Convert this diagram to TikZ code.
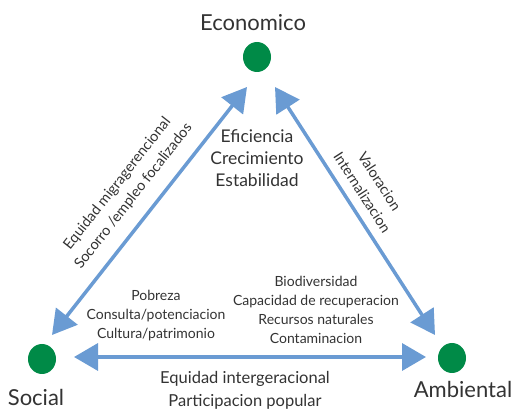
\documentclass[tikz,border=0pt]{standalone}
\usepackage{fontspec}
\setmainfont{Lato}
\usetikzlibrary{arrows.meta}
\definecolor{dotgreen}{HTML}{008A47}
\definecolor{arrblue}{HTML}{6A9BD3}
\definecolor{txt}{HTML}{333333}
\begin{document}
\begin{tikzpicture}[x=1pt,y=-1pt,
  dot/.style={fill=dotgreen},
  biarrow/.style={arrblue,line width=3.5pt,{Triangle[length=24pt,width=27pt]}-{Triangle[length=24pt,width=27pt]}},
  corner/.style={text=txt,font=\fontsize{22}{26}\selectfont,inner sep=0pt,anchor=base},
  mid/.style={text=txt,font=\fontsize{17.5}{22}\selectfont,align=center,inner sep=0pt},
  small/.style={text=txt,font=\fontsize{14}{19}\selectfont,align=center,inner sep=0pt},
  side/.style={text=txt,font=\fontsize{14.5}{20.5}\selectfont,align=center,inner sep=0pt}]
\useasboundingbox (0,0) rectangle (512,411);
% dots
\fill[dot] (257,57) ellipse [x radius=14, y radius=15];
\fill[dot] (42,359) ellipse [x radius=14, y radius=15];
\fill[dot] (452,358) ellipse [x radius=14, y radius=15];
% corner labels
\node[corner] (eco) at (253,31) {Economico};
\node[corner] (soc) at (36,406) {Social};
\node[corner] (amb) at (463,398) {Ambiental};
% arrow end coordinates
\coordinate (lt) at (247,87);
\coordinate (lb) at (52,335);
\coordinate (rt) at (275,87);
\coordinate (rb) at (435,335);
\coordinate (bl) at (74,357);
\coordinate (br) at (426,357);
\draw[biarrow] (lb) -- (lt);
\draw[biarrow] (rt) -- (rb);
\draw[biarrow] (bl) -- (br);
% texts
\node[mid] (efi) at (257,158) {Eficiencia\\Crecimiento\\Estabilidad};
\node[small] (pob) at (156,316) {Pobreza\\Consulta/potenciacion\\Cultura/patrimonio};
\node[small] (bio) at (316,310) {Biodiversidad\\Capacidad de recuperacion\\Recursos naturales\\Contaminacion};
\node[mid,font=\fontsize{16.5}{23}\selectfont] (equ) at (245,390) {Equidad intergeracional\\Participacion popular};
\node[side,rotate=51.8] (lside) at (125.5,190) {Equidad migragerencional\\Socorro /empleo focalizados};
\node[side,rotate=-57.2] (rside) at (371,187) {Valoracion\\Internalizacion};
\end{tikzpicture}
\end{document}
